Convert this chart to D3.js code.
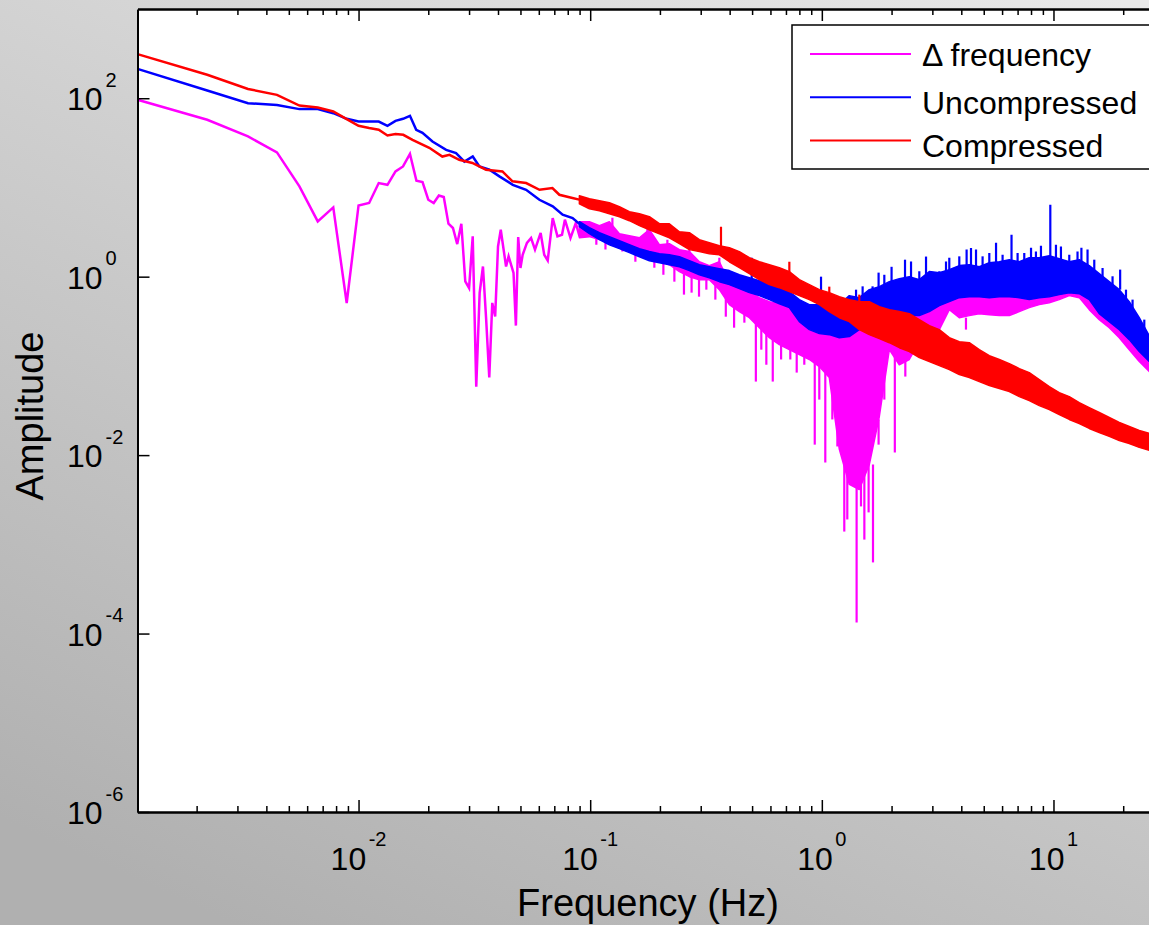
<!DOCTYPE html>
<meta charset="utf-8">
<style>
body { margin: 0; overflow: hidden; }
svg { display: block; font-family: "Liberation Sans", Arial, sans-serif; }
.axis path, .axis line { stroke: #000; }
.axis path { stroke-width: 2px; }
.axis line { stroke-width: 1.5px; }
</style>
<svg width="1149" height="925"></svg>
<script src="https://d3js.org/d3.v7.min.js"></script>
<script>

// ---- data ----

// low frequency part, individual FFT bins (Hz, amplitude)
var magF = [0.001111, 0.002222, 0.003333, 0.004444, 0.005556, 0.006667, 0.007778, 0.008889, 0.01, 0.01111,
  0.01222, 0.01333, 0.01444, 0.01556, 0.01667, 0.01778, 0.01889, 0.02, 0.02111, 0.02222, 0.02333, 0.02444,
  0.02556, 0.02667, 0.02778, 0.02889, 0.03, 0.03111, 0.03222, 0.03333, 0.03444, 0.03556, 0.03667, 0.03778,
  0.03889, 0.04, 0.04111, 0.04333, 0.04444, 0.04667, 0.04778, 0.04889, 0.05, 0.05111, 0.05333, 0.05556,
  0.05778, 0.06111, 0.06333, 0.06556, 0.06889, 0.07222, 0.07556, 0.07778, 0.08222, 0.08667, 0.09];
var magA = [96, 57.3, 37.3, 24.7, 10.3, 4.16, 5.97, 0.507, 6.29, 6.69,
  11.2, 10.7, 15.1, 17.2, 23.7, 11.9, 11.5, 7.28, 6.69, 8.13, 7.81, 3.92,
  3.51, 2.32, 3.92, 0.886, 0.747, 2.83, 0.0586, 0.657, 1.30, 0.330, 0.0740, 0.508,
  0.359, 2.18, 3.36, 1.30, 1.69, 1.10, 0.283, 2.78, 1.25, 1.76, 2.39, 2.71,
  2.01, 3.09, 1.76, 1.52, 4.54, 2.83, 2.95, 4.35, 2.71, 3.99, 2.83];

var blueF = [0.001111, 0.002222, 0.003333, 0.004444, 0.005556, 0.006667, 0.007778, 0.008889, 0.01, 0.01111,
  0.01222, 0.01333, 0.01444, 0.01556, 0.01667, 0.01774, 0.01888, 0.02085, 0.02389, 0.02636, 0.02864,
  0.03112, 0.03325, 0.03673, 0.04056, 0.04632, 0.05289, 0.06035, 0.06891, 0.07603, 0.08397, 0.0898];
var blueA = [213, 122, 88, 83.7, 75.5, 75.5, 68, 58.8, 54.8, 54.8,
  54.8, 49.1, 55.8, 58.8, 63.5, 44.3, 41.0, 32.7, 26.4, 24.3, 19.5,
  22.2, 17.2, 15.8, 13.3, 10.7, 9.42, 7.28, 6.13, 4.95, 4.54, 3.9];

var redF = [0.001111, 0.002222, 0.003333, 0.004444, 0.005556, 0.006667, 0.007778, 0.008889, 0.01, 0.01111,
  0.01222, 0.01333, 0.01444, 0.0156, 0.0171, 0.0202, 0.0230, 0.0247, 0.0272, 0.0310, 0.0355,
  0.0418, 0.0462, 0.0529, 0.0604, 0.0687, 0.0736, 0.0838, 0.0898];
var redA = [312, 183, 127, 109, 82.8, 78.7, 71, 58.3, 49.1, 46.3,
  44.3, 38.2, 39.6, 38.9, 34.2, 27.8, 22.2, 23.2, 20.4, 18.8, 15.8,
  15.1, 11.7, 11.2, 9.42, 9.85, 8.28, 7.61, 7.3];

// dense part above ~0.09 Hz: upper / lower envelope of the noise band
var bandF = [0.0898, 0.0992, 0.1096, 0.1210, 0.1337, 0.1476, 0.1631, 0.1801, 0.1989, 0.2197,
  0.2427, 0.2681, 0.2960, 0.3269, 0.3611, 0.3988, 0.4405, 0.4865, 0.5373, 0.5934,
  0.6554, 0.7239, 0.7995, 0.8833, 0.9754, 1.077, 1.190, 1.314, 1.451, 1.603,
  1.771, 1.956, 2.160, 2.386, 2.635, 2.911, 3.215, 3.551, 3.921, 4.331,
  4.783, 5.284, 5.836, 6.445, 7.119, 7.862, 8.683, 9.592, 10.59, 11.70,
  12.92, 14.27, 15.76, 17.41, 19.23, 21.24, 23.46, 25.91, 28.62];

var magHi = [4.13, 4.13, 3.73, 4.13, 3.03, 2.88, 2.73, 3.36, 2.28, 2.34,
  2.01, 1.91, 1.47, 1.33, 1.47, 0.857, 0.715, 0.679, 0.582, 0.525,
  0.498, 0.450, 0.395, 0.366, 0.330, 0.290, 0.283, 0.268, 0.283, 0.298,
  0.313, 0.347, 0.406, 0.553, 0.629, 0.715, 0.753, 0.835, 0.925, 0.974,
  0.974, 1.03, 1.05, 1.08, 1.08, 1.14, 1.14, 1.20, 1.14, 1.08,
  1.08, 0.925, 0.753, 0.645, 0.553, 0.427, 0.298, 0.197, 0.152];
var magLo = [2.73, 2.81, 2.60, 2.40, 2.22, 2.06, 1.86, 1.67, 1.51, 1.36,
  1.14, 1.00, 0.925, 0.925, 0.715, 0.486, 0.406, 0.347, 0.268, 0.207,
  0.173, 0.152, 0.134, 0.118, 0.0983, 0.0740, 0.0116, 0.00469, 0.00412, 0.00785,
  0.0271, 0.152, 0.103, 0.118, 0.187, 0.213, 0.255, 0.427, 0.347, 0.366,
  0.385, 0.375, 0.366, 0.366, 0.406, 0.450, 0.486, 0.511, 0.553, 0.613,
  0.582, 0.427, 0.330, 0.268, 0.207, 0.152, 0.112, 0.0864, 0.0703];

var blueHi = [4.13, 3.54, 3.11, 2.81, 2.53, 2.28, 2.06, 1.91, 1.81, 1.76,
  1.67, 1.51, 1.36, 1.29, 1.23, 1.17, 1.05, 0.974, 0.902, 0.835,
  0.773, 0.679, 0.553, 0.486, 0.486, 0.553, 0.486, 0.613, 0.582, 0.715,
  0.773, 0.879, 0.950, 1.00, 0.925, 1.14, 1.11, 1.20, 1.33, 1.36,
  1.29, 1.43, 1.47, 1.55, 1.47, 1.63, 1.63, 1.72, 1.59, 1.47,
  1.55, 1.33, 1.08, 0.879, 0.715, 0.525, 0.347, 0.218, 0.169];
var blueLo = [3.63, 3.03, 2.60, 2.28, 2.06, 1.86, 1.67, 1.51, 1.43, 1.36,
  1.29, 1.17, 1.05, 0.974, 0.879, 0.814, 0.734, 0.662, 0.613, 0.553,
  0.498, 0.450, 0.313, 0.255, 0.230, 0.224, 0.207, 0.213, 0.255, 0.298,
  0.330, 0.347, 0.375, 0.366, 0.366, 0.406, 0.473, 0.525, 0.582, 0.597,
  0.597, 0.582, 0.597, 0.597, 0.582, 0.553, 0.582, 0.597, 0.629, 0.662,
  0.645, 0.553, 0.385, 0.313, 0.255, 0.197, 0.145, 0.112, 0.0909];

var redHi = [8.07, 7.47, 7.10, 6.74, 6.08, 5.35, 5.08, 4.70, 3.92, 3.92,
  3.19, 3.11, 2.60, 2.40, 2.22, 2.11, 1.91, 1.63, 1.47, 1.36,
  1.26, 1.14, 0.925, 0.814, 0.715, 0.662, 0.597, 0.553, 0.525, 0.525,
  0.461, 0.427, 0.406, 0.385, 0.330, 0.283, 0.255, 0.207, 0.187, 0.182,
  0.152, 0.130, 0.118, 0.106, 0.0933, 0.0841, 0.0703, 0.0586, 0.0502, 0.0453,
  0.0388, 0.0341, 0.0300, 0.0264, 0.0232, 0.0209, 0.0189, 0.0175, 0.0162];
var redLo = [6.57, 5.77, 5.48, 5.08, 4.70, 4.24, 3.73, 3.36, 3.03, 2.73,
  2.34, 2.01, 1.91, 1.81, 1.76, 1.47, 1.26, 1.08, 0.925, 0.814,
  0.753, 0.679, 0.613, 0.553, 0.486, 0.406, 0.347, 0.313, 0.255, 0.224,
  0.202, 0.182, 0.160, 0.145, 0.124, 0.112, 0.1007, 0.0909, 0.0799, 0.0740,
  0.0667, 0.0602, 0.0557, 0.0515, 0.0453, 0.0408, 0.0359, 0.0324, 0.0285, 0.0251,
  0.0226, 0.0199, 0.0179, 0.0162, 0.0146, 0.0135, 0.0122, 0.0113, 0.0104];

// single spikes sticking out of the bands: [freq, from, to]
var magSpikes = [[0.1063, 2.28, 3.19], [0.1164, 2.01, 3.19], [0.1247, 2.95, 4.58], [0.1377, 1.91, 2.73],
  [0.1567, 1.47, 2.47], [0.1766, 2.28, 3.54], [0.1892, 1.26, 2.01], [0.207, 1.05, 1.76],
  [0.2154, 1.76, 2.60], [0.2309, 0.879, 1.47], [0.254, 0.629, 1.14], [0.268, 1.47, 2.11],
  [0.274, 0.662, 1.05], [0.295, 0.597, 0.925], [0.3173, 0.715, 1.05], [0.347, 0.553, 0.925],
  [0.361, 0.925, 1.63], [0.385, 0.356, 0.629], [0.418, 0.268, 0.450], [0.4405, 0.553, 0.879],
  [0.463, 0.305, 0.553], [0.519, 0.0667, 0.313], [0.548, 0.152, 0.375], [0.576, 0.103, 0.236],
  [0.614, 0.0667, 0.218], [0.667, 0.118, 0.255], [0.731, 0.118, 0.152], [0.779, 0.0841, 0.145],
  [0.840, 0.103, 0.197], [0.932, 0.0131, 0.112], [0.975, 0.0419, 0.152], [1.035, 0.00826, 0.0909],
  [1.110, 0.0251, 0.0909], [1.167, 0.0125, 0.0251], [1.25, 0.00139, 0.00893], [1.288, 0.0019, 0.0069],
  [1.413, 1.33e-4, 0.00533], [1.476, 0.00266, 0.00533], [1.526, 0.00113, 0.0069], [1.592, 0.00228, 0.00785],
  [1.663, 6.27e-4, 0.00785], [1.758, 0.0131, 0.0251], [1.861, 0.0419, 0.118], [2.066, 0.0107, 0.134],
  [2.293, 0.0759, 0.134], [4.19, 0.255, 0.347]];
var blueSpikes = [[0.498, 0.814, 1.63], [0.992, 0.486, 1.00], [1.405, 0.486, 0.715], [1.50, 0.486, 0.779],
  [1.656, 0.553, 0.779], [1.758, 0.679, 1.11], [1.861, 0.629, 1.05], [2.0, 0.814, 1.29],
  [2.286, 0.879, 1.55], [2.427, 0.814, 1.48], [2.635, 0.753, 1.15], [2.817, 0.925, 1.68],
  [3.215, 0.879, 1.15], [3.436, 0.925, 1.48], [3.55, 1.14, 1.63], [3.921, 1.05, 1.69],
  [4.217, 1.26, 2.01], [4.405, 1.11, 2.10], [4.63, 1.26, 2.01], [4.943, 1.05, 1.69],
  [5.284, 1.20, 1.84], [5.65, 1.36, 2.40], [6.03, 1.20, 1.76], [6.59, 1.47, 2.95],
  [7.0, 1.20, 1.84], [7.48, 1.26, 1.84], [8.0, 1.55, 2.11], [8.40, 1.33, 1.92],
  [8.83, 1.55, 2.22], [9.69, 1.63, 6.41], [10.25, 1.59, 2.28], [10.77, 1.33, 2.18],
  [11.70, 1.20, 1.76], [12.7, 1.47, 1.91], [13.2, 1.47, 2.11], [14.03, 1.20, 2.01],
  [15.0, 1.05, 1.55], [16.29, 0.879, 1.25], [17.99, 0.715, 1.01], [19.4, 0.715, 1.20],
  [20.56, 0.498, 0.715], [21.95, 0.427, 0.553], [24.66, 0.224, 0.330]];
var redSpikes = [[0.367, 2.01, 3.63], [0.724, 0.814, 1.47], [1.077, 0.553, 0.773], [1.451, 0.427, 0.629],
  [1.83, 0.375, 0.446], [3.67, 0.173, 0.189]];

var xMajor = [0.01, 0.1, 1, 10];
var yMajor = [1e-6, 1e-4, 1e-2, 1, 1e2];
var legendNames = ["\u0394 frequency", "Uncompressed", "Compressed"];
var colors = ["#ff00ff", "#0000ff", "#ff0000"];

// ---- drawing ----

var svg = d3.select("svg");

var x = d3.scaleLog().domain([1 / 900, 30]).range([137.5, 1164]);
var y = d3.scaleLog().domain([1e-6, 1e3]).range([812, 9]);

var defs = svg.append("defs");
var grad = defs.append("linearGradient")
    .attr("id", "bg")
    .attr("gradientUnits", "userSpaceOnUse")
    .attr("x1", 900).attr("y1", -100)
    .attr("x2", 400).attr("y2", 1000);
grad.append("stop").attr("offset", 0).attr("stop-color", "#e8e8e8");
grad.append("stop").attr("offset", 1).attr("stop-color", "#b0b0b0");

defs.append("clipPath").attr("id", "clip")
  .append("rect")
    .attr("x", x.range()[0]).attr("y", y.range()[1])
    .attr("width", x.range()[1] - x.range()[0])
    .attr("height", y.range()[0] - y.range()[1]);

svg.append("rect")
    .attr("width", 1149).attr("height", 925)
    .attr("fill", "url(#bg)");

svg.append("rect")
    .attr("x", x.range()[0]).attr("y", y.range()[1])
    .attr("width", x.range()[1] - x.range()[0])
    .attr("height", y.range()[0] - y.range()[1])
    .attr("fill", "#fff");

var line = d3.line()
    .x(function(d) { return x(d[0]); })
    .y(function(d) { return y(d[1]); });

var area = d3.area()
    .x(function(d) { return x(d[0]); })
    .y0(function(d) { return y(d[2]); })
    .y1(function(d) { return y(d[1]); });

var series = [
  {f: magF, a: magA, hi: magHi, lo: magLo, spikes: magSpikes, color: colors[0]},
  {f: blueF, a: blueA, hi: blueHi, lo: blueLo, spikes: blueSpikes, color: colors[1]},
  {f: redF, a: redA, hi: redHi, lo: redLo, spikes: redSpikes, color: colors[2]}
];

var curves = svg.append("g").attr("clip-path", "url(#clip)");

series.forEach(function(s) {
  var g = curves.append("g");
  var pts = d3.zip(s.f, s.a);
  var band = d3.zip(bandF, s.hi, s.lo);

  g.append("path")
      .datum(pts)
      .attr("d", line)
      .attr("fill", "none")
      .attr("stroke", s.color)
      .attr("stroke-width", 2.5);

  g.append("path")
      .datum(band)
      .attr("d", area)
      .attr("fill", s.color)
      .attr("stroke", s.color)
      .attr("stroke-width", 1.5)
      .attr("stroke-linejoin", "round");

  g.selectAll("line.spike")
    .data(s.spikes)
    .enter().append("line")
      .attr("class", "spike")
      .attr("x1", function(d) { return x(d[0]); })
      .attr("x2", function(d) { return x(d[0]); })
      .attr("y1", function(d) { return y(d[1]); })
      .attr("y2", function(d) { return y(d[2]); })
      .attr("stroke", s.color)
      .attr("stroke-width", 2.2);
});

// minor x ticks 2..9 of every decade
var xMinor = [];
[-3, -2, -1, 0, 1].forEach(function(e) {
  for (var m = 2; m <= 9; m++) {
    var v = m * Math.pow(10, e);
    if (v > x.domain()[0] && v < x.domain()[1]) xMinor.push(v);
  }
});

function addAxis(axis, tx, ty) {
  return svg.append("g")
      .attr("class", "axis")
      .attr("transform", "translate(" + tx + "," + ty + ")")
      .call(axis)
      .call(function(g) { g.selectAll("text").remove(); });
}

addAxis(d3.axisBottom(x).tickValues(xMajor).tickSize(-12).tickSizeOuter(0), 0, 812);
addAxis(d3.axisBottom(x).tickValues(xMinor).tickSize(-6).tickSizeOuter(0), 0, 812);
addAxis(d3.axisTop(x).tickValues(xMajor).tickSize(-12).tickSizeOuter(0), 0, 9);
addAxis(d3.axisTop(x).tickValues(xMinor).tickSize(-6).tickSizeOuter(0), 0, 9);
addAxis(d3.axisLeft(y).tickValues(yMajor).tickSize(-12).tickSizeOuter(0), 137.5, 0);

// tick labels as 10^n
svg.append("g").selectAll("text")
  .data(xMajor)
  .enter().append("text")
    .attr("x", function(d) { return x(d); })
    .attr("y", 870)
    .attr("text-anchor", "middle")
    .attr("font-size", 32)
    .each(function(d) {
      var t = d3.select(this);
      t.append("tspan").text("10");
      t.append("tspan").attr("dy", -24).attr("dx", 2.5).attr("font-size", 20)
        .text(Math.round(Math.log10(d)));
    });

svg.append("g").selectAll("text")
  .data(yMajor)
  .enter().append("text")
    .attr("x", 67)
    .attr("y", function(d) { return y(d) + 12; })
    .attr("font-size", 32)
    .each(function(d) {
      var t = d3.select(this);
      t.append("tspan").text("10");
      t.append("tspan").attr("dy", -23.5).attr("dx", 3).attr("font-size", 20)
        .text(Math.round(Math.log10(d)));
    });

svg.append("text")
    .attr("x", 648)
    .attr("y", 916)
    .attr("text-anchor", "middle")
    .attr("font-size", 38)
    .text("Frequency (Hz)");

svg.append("text")
    .attr("transform", "translate(43,416) rotate(-90)")
    .attr("text-anchor", "middle")
    .attr("font-size", 38)
    .text("Amplitude");

// legend
var legend = svg.append("g");
legend.append("rect")
    .attr("x", 792).attr("y", 25)
    .attr("width", 380).attr("height", 144)
    .attr("fill", "#fff")
    .attr("stroke", "#000")
    .attr("stroke-width", 1.5);

var rows = legend.selectAll("g.row")
  .data(legendNames)
  .enter().append("g")
    .attr("class", "row")
    .attr("transform", function(d, i) { return "translate(0," + (54 + i * 43.2) + ")"; });

rows.append("line")
    .attr("x1", 810).attr("x2", 911)
    .attr("stroke", function(d, i) { return colors[i]; })
    .attr("stroke-width", 2);

rows.append("text")
    .attr("x", 922)
    .attr("y", function(d, i) { return i === 0 ? 12 : 16.5; })
    .attr("font-size", 32)
    .text(function(d) { return d; });

</script>
